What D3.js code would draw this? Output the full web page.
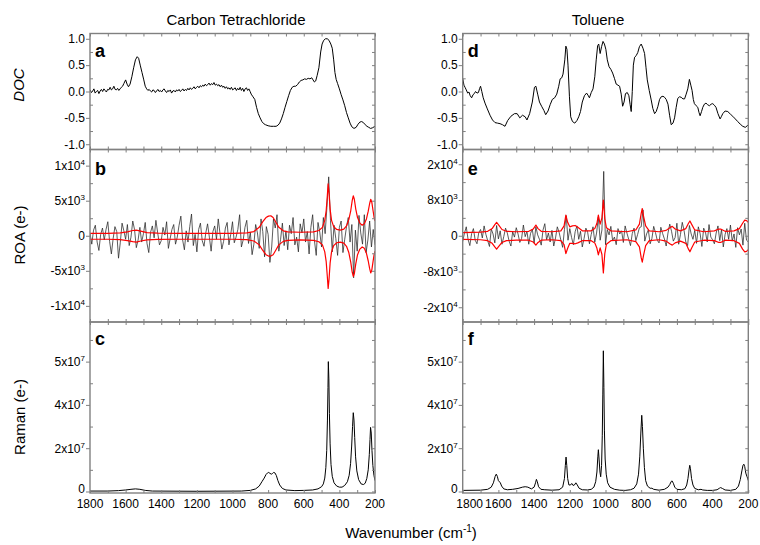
<!DOCTYPE html>
<html><head><meta charset="utf-8">
<script src="https://cdn.jsdelivr.net/npm/d3@7"></script>
<style>
body{margin:0;background:#fff}
svg{display:block}
text{font-family:"Liberation Sans",Arial,sans-serif;fill:#000}
</style>
</head><body>
<svg id="chart" width="760" height="545"></svg>
<script>
// ---------------- DATA ----------------
const titles = ["Carbon Tetrachloride", "Toluene"];
const panelLetters = ["a", "b", "c", "d", "e", "f"];
const yAxisTitles = ["DOC", "ROA (e-)", "Raman (e-)"];
const xAxisTitle = ["Wavenumber (cm", "-1", ")"];

const wavenumberTicks = [1800, 1600, 1400, 1200, 1000, 800, 600, 400, 200];
const wavenumberTickLabels = ["1800", "1600", "1400", "1200", "1000", "800", "600", "400", "200"];
const wavenumberMinor = [1800, 1700, 1600, 1500, 1400, 1300, 1200, 1100, 1000, 900, 800, 700, 600, 500, 400, 300, 200];

const docTicks = [-1, -0.5, 0, 0.5, 1];
const docTickLabels = [["-1.0", ""], ["-0.5", ""], ["0.0", ""], ["0.5", ""], ["1.0", ""]];
const docMinor = [-0.75, -0.25, 0.25, 0.75];

// ROA values in units of 1000 e-
const roaCCl4Ticks = [-10, -5, 0, 5, 10];
const roaCCl4TickLabels = [["-1x10", "4"], ["-5x10", "3"], ["0", ""], ["5x10", "3"], ["1x10", "4"]];
const roaCCl4Minor = [-7.5, -2.5, 2.5, 7.5];
const roaTolTicks = [-16, -8, 0, 8, 16];
const roaTolTickLabels = [["-2x10", "4"], ["-8x10", "3"], ["0", ""], ["8x10", "3"], ["2x10", "4"]];
const roaTolMinor = [-12, -4, 4, 12];

// Raman values in units of 1e7 e-, on the axis whose ticks are drawn evenly at 0,2,4,6
const ramanTicks = [0, 2, 4, 6];
const ramanTickLabels = [["0", ""], ["2x10", "7"], ["4x10", "7"], ["5x10", "7"]];
const ramanMinor = [1, 3, 5, 7];

// DOC, carbon tetrachloride [wavenumber, DOC]
const docCCl4 = [[1800,0.03],[1792,-0.02],[1785,0.01],[1778,0.05],[1771,-0.03],[1764,0.0],[1757,0.02],[1750,-0.04],[1743,0.01],[1736,0.04],[1729,0.0],[1722,0.05],[1715,0.02],[1708,-0.01],[1701,0.04],[1694,0.03],[1687,0.08],[1680,0.03],[1673,0.05],[1666,0.1],[1659,0.04],[1652,0.03],[1645,0.06],[1638,0.02],[1631,0.05],[1624,0.08],[1617,0.1],[1610,0.15],[1600,0.22],[1592,0.14],[1584,0.09],[1575,0.14],[1565,0.28],[1555,0.45],[1545,0.6],[1535,0.66],[1527,0.63],[1518,0.5],[1508,0.36],[1498,0.22],[1490,0.1],[1482,0.05],[1475,0.02],[1468,0.04],[1461,0.01],[1454,-0.01],[1447,0.03],[1440,0.02],[1433,-0.02],[1426,0.01],[1419,0.04],[1412,0.0],[1405,0.02],[1398,-0.01],[1391,0.03],[1384,0.05],[1377,0.01],[1370,-0.02],[1363,0.02],[1356,0.0],[1349,0.03],[1342,-0.03],[1335,0.01],[1328,0.02],[1321,-0.01],[1314,0.03],[1307,0.01],[1300,0.04],[1293,0.0],[1286,0.02],[1279,0.05],[1272,0.01],[1265,0.04],[1258,0.02],[1251,0.06],[1244,0.03],[1237,0.07],[1230,0.04],[1223,0.06],[1216,0.09],[1209,0.05],[1202,0.08],[1195,0.1],[1188,0.07],[1181,0.11],[1174,0.09],[1167,0.12],[1160,0.1],[1153,0.14],[1146,0.11],[1139,0.13],[1132,0.16],[1125,0.12],[1118,0.15],[1111,0.13],[1104,0.17],[1097,0.12],[1090,0.14],[1083,0.11],[1076,0.13],[1069,0.09],[1062,0.12],[1055,0.08],[1048,0.1],[1041,0.06],[1034,0.09],[1027,0.05],[1020,0.07],[1013,0.04],[1006,0.08],[999,0.03],[992,0.05],[985,0.07],[978,0.02],[971,0.06],[964,0.03],[957,0.08],[950,0.02],[943,0.06],[936,0.0],[929,0.05],[922,0.07],[915,0.02],[908,0.05],[901,0.0],[895,-0.05],[885,-0.1],[875,-0.15],[865,-0.3],[855,-0.42],[845,-0.5],[835,-0.57],[825,-0.61],[815,-0.63],[800,-0.65],[785,-0.66],[770,-0.66],[755,-0.66],[745,-0.64],[735,-0.6],[725,-0.52],[715,-0.42],[705,-0.3],[695,-0.19],[685,-0.08],[675,0.02],[665,0.08],[655,0.1],[645,0.1],[635,0.13],[625,0.18],[615,0.21],[605,0.22],[595,0.24],[585,0.23],[575,0.25],[565,0.24],[555,0.26],[548,0.22],[540,0.18],[533,0.2],[525,0.3],[515,0.45],[505,0.75],[497,0.9],[488,0.97],[478,1.0],[468,1.0],[458,0.97],[448,0.9],[440,0.82],[432,0.6],[425,0.36],[418,0.23],[410,0.15],[400,0.05],[390,-0.06],[380,-0.16],[370,-0.27],[360,-0.4],[350,-0.5],[340,-0.6],[330,-0.67],[318,-0.7],[306,-0.68],[295,-0.62],[285,-0.58],[275,-0.57],[265,-0.59],[255,-0.63],[245,-0.66],[235,-0.68],[225,-0.7],[215,-0.69],[205,-0.67],[200,-0.66]];

// DOC, toluene
const docToluene = [[1800,0.25],[1793,0.12],[1787,0.08],[1780,0.03],[1772,-0.03],[1765,-0.01],[1758,-0.08],[1750,-0.12],[1742,-0.06],[1735,-0.04],[1728,0.0],[1720,-0.03],[1712,-0.02],[1705,0.06],[1700,0.1],[1693,0.0],[1685,-0.12],[1675,-0.22],[1662,-0.33],[1647,-0.45],[1633,-0.54],[1619,-0.59],[1605,-0.6],[1591,-0.61],[1577,-0.63],[1563,-0.66],[1548,-0.55],[1530,-0.47],[1510,-0.42],[1495,-0.42],[1480,-0.5],[1465,-0.45],[1450,-0.48],[1440,-0.54],[1425,-0.42],[1410,-0.2],[1398,0.08],[1390,0.1],[1380,-0.05],[1370,-0.2],[1358,-0.28],[1345,-0.36],[1335,-0.44],[1322,-0.37],[1310,-0.25],[1298,-0.15],[1285,-0.12],[1273,-0.05],[1262,0.1],[1254,0.24],[1245,0.26],[1238,0.33],[1228,0.6],[1222,0.86],[1216,0.8],[1210,0.5],[1202,-0.1],[1195,-0.48],[1185,-0.57],[1172,-0.6],[1160,-0.55],[1150,-0.48],[1140,-0.38],[1130,-0.2],[1118,-0.08],[1106,-0.03],[1098,-0.07],[1090,-0.12],[1080,-0.02],[1070,0.05],[1060,0.28],[1052,0.6],[1044,0.87],[1038,0.9],[1030,0.72],[1022,0.85],[1014,0.95],[1006,0.9],[998,0.8],[990,0.6],[980,0.47],[970,0.42],[960,0.35],[950,0.25],[940,0.14],[930,0.12],[921,0.1],[912,-0.05],[904,-0.28],[896,-0.2],[888,-0.04],[878,-0.02],[869,-0.08],[862,-0.25],[856,-0.38],[850,0.0],[844,0.5],[837,0.65],[828,0.68],[819,0.74],[810,0.85],[800,0.9],[790,0.82],[781,0.72],[773,0.45],[766,0.22],[755,0.02],[744,-0.16],[735,-0.32],[725,-0.42],[716,-0.38],[707,-0.29],[697,-0.15],[688,-0.1],[678,-0.09],[669,-0.11],[660,-0.15],[650,-0.24],[641,-0.45],[632,-0.63],[622,-0.6],[613,-0.5],[604,-0.3],[595,-0.13],[585,-0.1],[576,-0.11],[566,-0.14],[557,-0.14],[548,-0.05],[539,0.05],[530,0.23],[522,0.12],[515,0.02],[508,-0.15],[502,-0.23],[492,-0.27],[483,-0.3],[476,-0.4],[470,-0.46],[462,-0.38],[455,-0.3],[446,-0.24],[437,-0.22],[428,-0.25],[418,-0.27],[408,-0.24],[399,-0.23],[390,-0.26],[381,-0.3],[370,-0.42],[358,-0.52],[350,-0.47],[343,-0.42],[330,-0.37],[315,-0.38],[300,-0.43],[287,-0.47],[273,-0.52],[259,-0.57],[245,-0.62],[231,-0.66],[217,-0.68],[206,-0.65],[200,-0.63]];

// ROA measured signal (black), sampled from 1800 down to 200 every 10 cm-1, units of 1000 e-
const roaGridStart = 1800;
const roaGridStep = 10;
const roaCCl4Signal = [
 0.4,-1.2,0.8,1.5,-0.9,-2.1,0.2,1.1,-0.6,0.9,
 2.0,-0.8,-2.6,-0.4,1.3,0.6,-3.2,-1.0,1.8,0.7,
 -0.5,1.6,-1.4,-0.2,2.1,0.9,-1.7,-0.6,1.2,-0.9,
 0.3,1.9,-1.1,-2.4,0.5,1.4,-0.3,2.2,0.4,-1.3,
 -0.7,1.2,0.1,2.0,-1.8,-0.4,0.9,1.6,-1.2,-0.2,
 1.5,2.8,-0.6,-2.0,0.7,-0.9,1.3,3.1,-1.4,0.2,
 -2.3,0.9,1.8,-0.7,-1.5,0.4,1.7,-0.2,-2.2,0.6,
 1.4,-0.5,2.4,0.3,-1.9,-0.8,1.1,1.9,-1.3,0.2,
 2.0,-1.0,-0.2,0.9,3.0,-1.6,-0.6,1.2,2.2,-1.1,
 0.5,-2.7,-1.2,1.6,0.4,-1.8,2.4,0.6,-3.0,1.3,
 0.2,-3.8,-1.6,2.4,1.1,3.0,-2.2,-0.5,1.8,-1.4,
 0.7,-2.0,1.5,0.3,2.6,-1.3,-0.2,-2.3,1.7,0.4,
 2.4,-0.9,0.6,-2.6,1.2,3.0,-0.7,-2.8,1.9,0.5,
 -1.6,2.6,0.3,4.0,8.4,2.2,-2.3,1.5,-0.4,-2.8,
 1.2,2.1,-2.4,-0.5,1.3,2.6,-0.9,1.6,-6.0,0.8,
 -2.2,2.9,0.4,-1.2,3.0,-2.4,-0.6,2.1,-1.6,0.9,
 -1.3];
const roaTolSignal = [
 -1.3,0.6,2.0,-0.8,-2.2,0.5,1.6,-1.0,-1.8,0.7,
 1.4,-0.5,2.2,0.3,-1.1,-2.4,1.5,0.4,-1.6,2.3,
 -0.7,1.1,-1.9,-0.2,1.7,0.6,-1.2,-2.3,0.9,-0.3,
 1.8,0.4,-1.5,-0.6,2.4,-0.2,1.0,-1.9,0.5,1.5,
 -1.6,2.0,0.2,-0.8,-2.1,1.3,2.7,-0.9,0.6,-1.4,
 1.2,-2.3,-0.5,2.0,0.8,-1.0,-2.6,1.4,4.5,-1.0,
 1.6,-0.4,-2.0,0.9,2.2,-0.8,1.0,-2.5,-0.6,1.7,
 0.8,-1.8,0.3,2.0,-1.4,0.6,4.2,-1.0,1.3,14.4,
 -2.0,1.4,0.2,2.1,-1.1,-0.3,-2.0,1.6,0.4,1.1,
 -1.5,2.2,0.6,-0.8,-2.2,0.5,1.7,-1.1,0.3,1.8,
 2.0,5.8,-1.2,0.4,1.3,-1.8,-0.6,2.1,0.7,-1.0,
 -1.6,1.9,0.5,-0.7,-2.3,0.6,2.6,1.0,-1.2,-0.4,
 2.8,-1.9,0.3,3.0,1.2,-1.4,-2.2,2.3,0.4,-0.8,
 1.2,-1.7,2.0,0.5,-2.4,1.7,0.8,-1.4,2.5,-0.3,
 -0.9,-1.8,0.6,2.2,-1.1,1.4,-2.5,0.3,1.6,-0.8,
 2.4,-1.2,0.4,-2.6,1.8,0.2,1.5,-2.1,2.8,-1.0,
 -1.4];

// ROA envelope (red): [wavenumber, upper, lower], units of 1000 e-
const roaCCl4Envelope = [[1800,0.35,-0.5],[1700,0.35,-0.5],[1630,0.4,-0.55],[1590,0.55,-0.7],[1560,0.75,-0.85],[1540,0.8,-0.9],[1515,0.65,-0.75],[1480,0.45,-0.6],[1420,0.38,-0.52],[1300,0.35,-0.5],[1000,0.35,-0.5],[920,0.4,-0.55],[880,0.6,-0.75],[850,1.2,-1.3],[830,2.0,-2.1],[812,2.6,-2.7],[798,2.8,-2.9],[785,2.85,-2.9],[772,2.6,-2.7],[758,2.0,-2.1],[740,1.2,-1.3],[715,0.7,-0.8],[690,0.55,-0.65],[620,0.5,-0.6],[545,0.55,-0.65],[515,0.75,-0.85],[495,1.2,-1.3],[482,2.2,-2.3],[474,3.6,-3.7],[468,5.6,-5.7],[463,7.4,-7.5],[458,6.0,-6.2],[452,3.8,-3.9],[444,2.2,-2.3],[432,1.3,-1.4],[415,0.9,-1.0],[395,0.8,-0.9],[375,0.95,-1.05],[360,1.4,-1.5],[347,2.3,-2.4],[336,3.6,-3.8],[328,5.0,-5.2],[322,5.7,-5.8],[316,5.2,-5.4],[308,3.8,-4.0],[298,2.6,-2.7],[285,1.8,-1.9],[272,1.5,-1.6],[260,1.7,-1.8],[248,2.4,-2.5],[238,3.5,-3.6],[230,4.6,-4.7],[224,5.2,-5.3],[218,4.8,-4.9],[211,3.6,-3.7],[205,2.6,-2.7],[200,2.1,-2.2]];
const roaTolEnvelope = [[1800,0.7,-0.8],[1700,0.8,-0.9],[1660,1.0,-1.1],[1635,1.6,-1.7],[1620,2.5,-2.5],[1610,3.0,-3.0],[1598,2.4,-2.4],[1580,1.4,-1.5],[1555,1.0,-1.1],[1500,0.9,-1.0],[1430,1.0,-1.0],[1405,1.5,-1.4],[1390,2.4,-2.1],[1378,1.6,-1.5],[1360,1.0,-1.0],[1300,0.9,-0.9],[1250,1.1,-1.1],[1232,2.2,-2.0],[1222,4.6,-4.0],[1212,3.0,-2.8],[1200,2.0,-1.7],[1185,2.2,-1.7],[1170,2.3,-1.8],[1155,1.9,-1.6],[1130,1.1,-1.1],[1080,1.1,-1.1],[1060,1.6,-1.6],[1048,2.8,-2.8],[1040,4.6,-4.3],[1030,2.6,-2.7],[1020,4.0,-4.2],[1012,8.0,-8.3],[1004,3.8,-4.0],[995,1.8,-1.9],[970,1.1,-1.1],[880,0.9,-0.9],[830,1.3,-1.3],[810,2.6,-2.5],[800,5.0,-4.9],[794,6.1,-5.9],[787,4.4,-4.4],[775,2.2,-2.2],[755,1.1,-1.1],[700,0.9,-0.9],[660,1.2,-1.2],[640,1.8,-1.8],[626,2.1,-2.1],[610,1.5,-1.6],[580,1.1,-1.2],[550,1.6,-1.7],[535,2.8,-3.0],[527,3.3,-3.6],[518,2.6,-2.8],[500,1.3,-1.4],[450,0.9,-1.0],[390,1.1,-1.1],[365,1.5,-1.5],[355,1.5,-1.5],[330,1.0,-1.0],[280,1.1,-1.1],[250,1.6,-1.7],[232,2.8,-3.0],[220,3.5,-3.6],[210,3.4,-3.5],[200,3.0,-3.1]];

// Raman (units of 1e7 e-)
const ramanCCl4 = [[1800,0.02],[1700,0.02],[1640,0.04],[1600,0.07],[1570,0.1],[1545,0.12],[1520,0.1],[1490,0.05],[1450,0.02],[1200,0.01],[950,0.02],[900,0.05],[870,0.12],[850,0.25],[835,0.45],[822,0.62],[812,0.78],[803,0.86],[797,0.88],[790,0.84],[782,0.8],[776,0.83],[769,0.88],[762,0.86],[754,0.74],[745,0.5],[735,0.3],[720,0.14],[700,0.07],[650,0.04],[600,0.05],[550,0.07],[520,0.12],[500,0.22],[490,0.35],[482,0.62],[476,1.1],[471,1.9],[467,3.3],[464,4.8],[462,6.0],[459,5.2],[456,3.6],[452,2.2],[447,1.25],[440,0.7],[430,0.4],[415,0.25],[400,0.2],[385,0.2],[370,0.28],[355,0.45],[345,0.75],[337,1.3],[331,2.1],[326,3.0],[322,3.64],[318,3.3],[314,2.5],[309,1.6],[302,0.95],[292,0.55],[278,0.35],[265,0.32],[255,0.38],[246,0.6],[238,1.0],[232,1.7],[228,2.4],[225,2.96],[221,2.7],[217,1.9],[212,1.2],[206,0.75],[200,0.5]];
const ramanToluene = [[1800,0.05],[1700,0.06],[1660,0.1],[1640,0.2],[1628,0.4],[1618,0.7],[1612,0.8],[1606,0.7],[1600,0.5],[1595,0.45],[1590,0.42],[1582,0.25],[1570,0.12],[1550,0.08],[1520,0.1],[1490,0.14],[1465,0.2],[1450,0.22],[1435,0.2],[1415,0.12],[1400,0.2],[1392,0.4],[1387,0.56],[1382,0.45],[1375,0.22],[1362,0.1],[1340,0.08],[1300,0.06],[1260,0.08],[1240,0.2],[1230,0.6],[1225,1.2],[1221,1.59],[1217,1.2],[1212,0.6],[1205,0.3],[1196,0.3],[1189,0.37],[1182,0.28],[1174,0.3],[1166,0.4],[1158,0.3],[1148,0.15],[1130,0.08],[1100,0.07],[1080,0.1],[1065,0.2],[1055,0.45],[1048,0.9],[1043,1.6],[1040,1.93],[1036,1.5],[1031,0.9],[1027,0.68],[1022,1.2],[1018,2.6],[1015,4.5],[1012,6.5],[1009,4.8],[1006,2.8],[1002,1.5],[996,0.8],[988,0.4],[975,0.2],[950,0.1],[920,0.06],[890,0.05],[860,0.08],[840,0.15],[825,0.35],[815,0.8],[808,1.6],[802,2.7],[797,3.52],[793,3.0],[788,2.0],[782,1.1],[775,0.5],[765,0.25],[750,0.15],[740,0.15],[730,0.1],[700,0.06],[670,0.1],[650,0.2],[640,0.32],[632,0.46],[627,0.49],[620,0.38],[612,0.2],[600,0.1],[575,0.08],[555,0.13],[545,0.3],[538,0.6],[532,1.0],[528,1.21],[524,1.05],[518,0.6],[510,0.3],[500,0.14],[480,0.08],[465,0.1],[455,0.07],[430,0.05],[400,0.05],[375,0.08],[362,0.15],[355,0.18],[345,0.14],[330,0.07],[300,0.05],[270,0.1],[255,0.25],[245,0.55],[236,0.95],[230,1.2],[225,1.26],[220,1.15],[214,0.85],[208,0.7],[204,0.62],[200,0.5]];

// ---------------- LAYOUT / DRAW ----------------
const svg = d3.select("#chart");
const frameColor = "#808080";
const cols = [{x0: 90, x1: 375}, {x0: 462.7, x1: 748.3}];
const rows = [{y0: 33.5, y1: 149.5}, {y0: 149.5, y1: 322}, {y0: 322, y1: 493}];
const letterBaseline = [57, 175, 345];

const signalPairs = vals => vals.map((v, i) => [roaGridStart - i * roaGridStep, v]);
const upper = env => env.map(d => [d[0], d[1]]);
const lower = env => env.map(d => [d[0], d[2]]);

const panels = [
  {col:0,row:0,letter:panelLetters[0],domain:[-1.1,1.1],major:docTicks,labels:docTickLabels,minor:docMinor,
   series:[{data:docCCl4,color:"#000",w:1}]},
  {col:0,row:1,letter:panelLetters[1],domain:[-12.3,12.3],major:roaCCl4Ticks,labels:roaCCl4TickLabels,minor:roaCCl4Minor,
   series:[{data:signalPairs(roaCCl4Signal),color:"#262626",w:0.75},{data:upper(roaCCl4Envelope),color:"#ff0000",w:1.2},{data:lower(roaCCl4Envelope),color:"#ff0000",w:1.2}]},
  {col:0,row:2,letter:panelLetters[2],domain:[-0.07,7.83],major:ramanTicks,labels:ramanTickLabels,minor:ramanMinor,
   series:[{data:ramanCCl4,color:"#000",w:1}]},
  {col:1,row:0,letter:panelLetters[3],domain:[-1.1,1.1],major:docTicks,labels:docTickLabels,minor:docMinor,
   series:[{data:docToluene,color:"#000",w:1}]},
  {col:1,row:1,letter:panelLetters[4],domain:[-19.3,19.3],major:roaTolTicks,labels:roaTolTickLabels,minor:roaTolMinor,
   series:[{data:signalPairs(roaTolSignal),color:"#262626",w:0.75},{data:upper(roaTolEnvelope),color:"#ff0000",w:1.2},{data:lower(roaTolEnvelope),color:"#ff0000",w:1.2}]},
  {col:1,row:2,letter:panelLetters[5],domain:[-0.07,7.83],major:ramanTicks,labels:ramanTickLabels,minor:ramanMinor,
   series:[{data:ramanToluene,color:"#000",w:1}]}
];

function styleAxis(sel) {
  sel.select(".domain").remove();
  sel.selectAll(".tick line").attr("stroke", frameColor).attr("stroke-width", 1);
  sel.selectAll(".tick text").remove();
}

panels.forEach((p, pi) => {
  const c = cols[p.col], r = rows[p.row];
  const x = d3.scaleLinear().domain([1800, 200]).range([c.x0, c.x1]);
  const y = d3.scaleLinear().domain(p.domain).range([r.y1, r.y0]);
  const g = svg.append("g");
  const clipId = "clip-" + pi;
  svg.append("clipPath").attr("id", clipId).append("rect")
    .attr("x", c.x0).attr("y", r.y0).attr("width", c.x1 - c.x0).attr("height", r.y1 - r.y0);
  const plot = g.append("g").attr("clip-path", `url(#${clipId})`);
  const line = d3.line().x(d => x(d[0])).y(d => y(d[1]));
  p.series.forEach(s => {
    plot.append("path").attr("d", line(s.data)).attr("fill", "none")
      .attr("stroke", s.color).attr("stroke-width", s.w).attr("stroke-linejoin", "round");
  });

  // ticks
  g.append("g").attr("transform", `translate(0,${r.y1})`)
    .call(d3.axisBottom(x).tickValues(wavenumberMinor).tickSize(-3).tickSizeOuter(0)).call(styleAxis);
  g.append("g").attr("transform", `translate(0,${r.y0})`)
    .call(d3.axisTop(x).tickValues(wavenumberMinor).tickSize(-3).tickSizeOuter(0)).call(styleAxis);
  g.append("g").attr("transform", `translate(${c.x0},0)`)
    .call(d3.axisLeft(y).tickValues(p.major).tickSize(4).tickSizeOuter(0)).call(styleAxis);
  g.append("g").attr("transform", `translate(${c.x0},0)`)
    .call(d3.axisLeft(y).tickValues(p.minor.filter(v => v > p.domain[0] && v < p.domain[1])).tickSize(-3).tickSizeOuter(0)).call(styleAxis);
  g.append("g").attr("transform", `translate(${c.x1},0)`)
    .call(d3.axisRight(y).tickValues(p.major.concat(p.minor).filter(v => v > p.domain[0] && v < p.domain[1])).tickSize(-3).tickSizeOuter(0)).call(styleAxis);

  // frame
  g.append("rect").attr("x", c.x0).attr("y", r.y0).attr("width", c.x1 - c.x0).attr("height", r.y1 - r.y0)
    .attr("fill", "none").attr("stroke", frameColor).attr("stroke-width", 1.4);

  // y tick labels
  p.major.forEach((t, i) => {
    const lab = p.labels[i];
    const lift = (p.row === 2 && t === 0) ? -2.5 : 0;
    const tx = g.append("text").attr("x", c.x0 - 5).attr("y", y(t) + lift).attr("dy", "0.36em")
      .attr("text-anchor", "end").style("font-size", "12px");
    tx.append("tspan").text(lab[0]);
    if (lab[1]) tx.append("tspan").attr("dy", -5).style("font-size", "8px").text(lab[1]);
  });

  // x tick labels on bottom row
  if (p.row === 2) {
    wavenumberTicks.forEach((t, i) => {
      g.append("text").attr("x", x(t) + (p.col === 1 && i === 0 ? 7 : 0)).attr("y", r.y1 + 15)
        .attr("text-anchor", "middle").style("font-size", "12px").text(wavenumberTickLabels[i]);
    });
  }

  // panel letter
  g.append("text").attr("x", c.x0 + 5).attr("y", letterBaseline[p.row])
    .style("font-size", "18px").style("font-weight", "bold").text(p.letter);
});

// column titles
svg.append("text").attr("x", 236).attr("y", 25).attr("text-anchor", "middle").style("font-size", "15px").text(titles[0]);
svg.append("text").attr("x", 598).attr("y", 25).attr("text-anchor", "middle").style("font-size", "15px").text(titles[1]);

// y-axis titles
const yTitlePos = [[18.5, 85, "italic"], [19.5, 235, "normal"], [19.5, 417, "normal"]];
yAxisTitles.forEach((t, i) => {
  svg.append("text").attr("transform", `translate(${yTitlePos[i][0]},${yTitlePos[i][1]}) rotate(-90)`)
    .attr("dy", "0.36em").attr("text-anchor", "middle").style("font-size", "15px")
    .style("font-style", yTitlePos[i][2]).text(t);
});

// x-axis title
const xt = svg.append("text").attr("x", 411).attr("y", 538).attr("text-anchor", "middle").style("font-size", "15px");
xt.append("tspan").text(xAxisTitle[0]);
xt.append("tspan").attr("dy", -6).style("font-size", "10px").text(xAxisTitle[1]);
xt.append("tspan").attr("dy", 6).text(xAxisTitle[2]);
</script>
</body></html>
